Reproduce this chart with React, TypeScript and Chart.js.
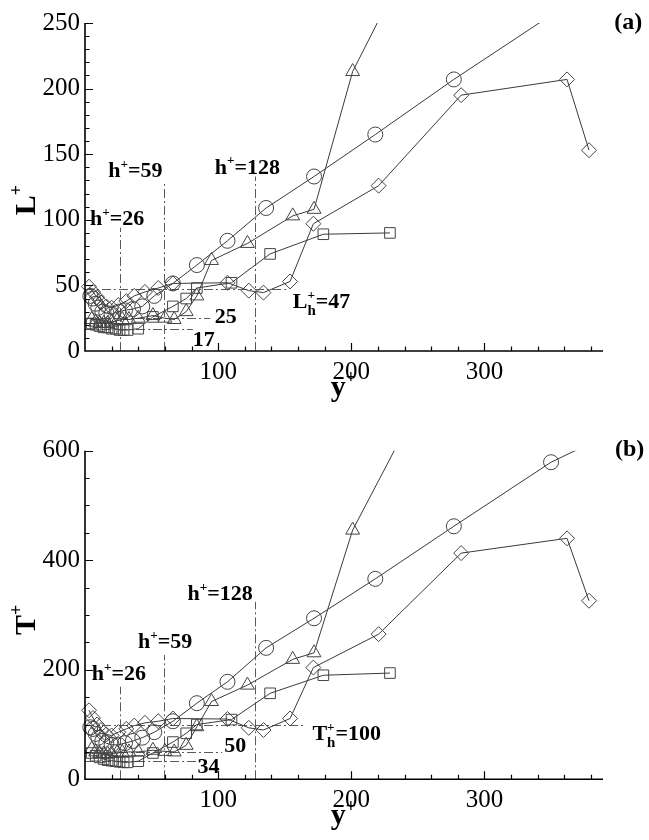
import React, { useEffect, useRef } from "react";
import { Chart, registerables } from "chart.js";

Chart.register(...registerables);

const SERIF = '"Liberation Serif", "Times New Roman", Times, serif';

// ---------------- data (y+ stations and values) ----------------
const circleX = [4, 6, 8, 10, 13, 16, 20, 25, 30, 36, 43, 52, 66, 84, 107, 136, 172, 218, 277, 350, 440];
const circleL = [42, 40, 36, 33, 30, 29, 28, 30, 31, 32, 34, 42, 51.5, 65.5, 84, 109, 133, 165, 207, 256, 310];
const circleT = [95, 92, 83, 76, 70, 66, 63, 63, 66, 70, 76, 86, 106, 139, 178, 240, 294, 366, 462, 579, 684];

const triangleX = [5, 8, 11, 14, 17, 20, 24, 28, 33, 40, 51, 60, 67, 76, 84, 95, 122, 156, 172, 201, 240];
const triangleL = [24, 22, 21, 21, 21, 22, 23, 24, 24, 25, 27, 25, 24, 30, 42, 69, 82, 103, 108, 213, 291];
const triangleT = [55, 50, 47, 46, 46, 47, 48, 49, 50, 50, 53, 51, 50, 62, 96, 142, 172, 219, 231, 455, 636];

const squareX = [5, 8, 11, 14, 17, 20, 23, 26, 29, 32, 40, 51, 66, 76, 84, 110, 139, 179, 229];
const squareL = [21, 20, 19, 18, 18, 17, 17, 16, 16, 16, 17, 26, 34, 40, 48, 52, 74, 89, 90];
const squareT = [48, 43, 40, 37, 35, 34, 33, 32, 31, 31, 33, 48, 68, 84, 100, 109, 157, 190, 194];

const diamondX = [3, 6, 9, 12, 16, 20, 25, 31, 37, 45, 55, 66, 107, 123, 134, 154, 171.5, 220.5, 282.5, 362, 378.5];
const diamondL = [49, 45, 41, 37, 34, 33, 35, 38, 42, 45, 48, 51.5, 52, 46, 44.5, 53, 97, 126, 195, 207, 153];
const diamondT = [126, 112, 100, 90, 82, 80, 86, 92, 98, 103, 106, 111, 110, 94, 90, 111, 204, 265, 413, 440, 326];

// reference lines
const hPlus = [26, 59, 128];
const hTopL = [94, 128, 133];
const hTopT = [169, 227, 324];
const levelL = [47, 25, 17];
const levelEndL = [152, 94, 81];
const levelT = [100, 50, 34];
const levelEndT = [164, 103, 87];

// tick labels
const xTickLabels = ["100", "200", "300"];
const lTickLabels = ["0", "50", "100", "150", "200", "250"];
const tTickLabels = ["0", "200", "400", "600"];

// annotation texts (anchor = left/baseline in data units)
type Seg = { t?: string; sup?: string; sub?: string };
type Note = { x: number; y: number; segs: Seg[] };

const notesA: Note[] = [
  { x: 3.75, y: 95.9, segs: [{ t: "h" }, { sup: "+" }, { t: "=26" }] },
  { x: 17.5, y: 132.6, segs: [{ t: "h" }, { sup: "+" }, { t: "=59" }] },
  { x: 97.5, y: 135.2, segs: [{ t: "h" }, { sup: "+" }, { t: "=128" }] },
  { x: 156, y: 32.5, segs: [{ t: "L" }, { sup: "+", sub: "h" }, { t: "=47" }] },
  { x: 97.5, y: 21.5, segs: [{ t: "25" }] },
  { x: 81, y: 4, segs: [{ t: "17" }] },
];
const notesB: Note[] = [
  { x: 5, y: 181.2, segs: [{ t: "h" }, { sup: "+" }, { t: "=26" }] },
  { x: 39.75, y: 239.7, segs: [{ t: "h" }, { sup: "+" }, { t: "=59" }] },
  { x: 77, y: 327.4, segs: [{ t: "h" }, { sup: "+" }, { t: "=128" }] },
  { x: 170.8, y: 71.8, segs: [{ t: "T" }, { sup: "+", sub: "h" }, { t: "=100" }] },
  { x: 104.5, y: 50.4, segs: [{ t: "50" }] },
  { x: 84.5, y: 11, segs: [{ t: "34" }] },
];

type Panel = {
  yMax: number;
  yMajor: number;
  yMinor: number;
  yLabels: string[];
  L: { circle: number[]; triangle: number[]; square: number[]; diamond: number[] };
  hTop: number[];
  levels: number[];
  levelEnd: number[];
  notes: Note[];
  yTitle: string;
  yTitleAt: number;
  tag: string;
  tagAt: [number, number];
  padTop: number;
  xAxisH: number;
};

const panelA: Panel = {
  yMax: 250,
  yMajor: 50,
  yMinor: 10,
  yLabels: lTickLabels,
  L: { circle: circleL, triangle: triangleL, square: squareL, diamond: diamondL },
  hTop: hTopL,
  levels: levelL,
  levelEnd: levelEndL,
  notes: notesA,
  yTitle: "L",
  yTitleAt: 115,
  tag: "(a)",
  tagAt: [397.5, 245.8],
  padTop: 23,
  xAxisH: 69,
};
const panelB: Panel = {
  yMax: 600,
  yMajor: 200,
  yMinor: 50,
  yLabels: tTickLabels,
  L: { circle: circleT, triangle: triangleT, square: squareT, diamond: diamondT },
  hTop: hTopT,
  levels: levelT,
  levelEnd: levelEndT,
  notes: notesB,
  yTitle: "T",
  yTitleAt: 291,
  tag: "(b)",
  tagAt: [398, 590],
  padTop: 30.7,
  xAxisH: 60.7,
};

const X_MAX = 389;

const bold = (s: number) => `bold ${s}px ${SERIF}`;

function drawRich(ctx: CanvasRenderingContext2D, x: number, y: number, segs: Seg[], size: number, dry = false) {
  let cx = x;
  for (const s of segs) {
    if (s.t) {
      ctx.font = bold(size);
      if (!dry) ctx.fillText(s.t, cx, y);
      cx += ctx.measureText(s.t).width;
    } else {
      let w = 0;
      if (s.sup) {
        ctx.font = bold(size * 0.6);
        if (!dry) ctx.fillText(s.sup, cx, y - size * 0.42);
        w = Math.max(w, ctx.measureText(s.sup).width);
      }
      if (s.sub) {
        ctx.font = bold(size * 0.68);
        if (!dry) ctx.fillText(s.sub, cx, y + size * 0.3);
        w = Math.max(w, ctx.measureText(s.sub).width);
      }
      cx += w;
    }
  }
  return cx - x;
}

const snap = (v: number) => Math.round(v) + 0.5;

function overlay(p: Panel) {
  return {
    id: "overlay",
    beforeDatasetsDraw(chart: any) {
      const ctx: CanvasRenderingContext2D = chart.ctx;
      const xs = chart.scales.x;
      const ys = chart.scales.y;
      ctx.save();
      ctx.strokeStyle = "#5a5a5a";
      ctx.lineWidth = 1;
      ctx.setLineDash([9, 3, 2, 3]);
      hPlus.forEach((h, i) => {
        const px = snap(xs.getPixelForValue(h));
        ctx.beginPath();
        ctx.moveTo(px, ys.getPixelForValue(0));
        ctx.lineTo(px, ys.getPixelForValue(p.hTop[i]));
        ctx.stroke();
      });
      p.levels.forEach((lv, i) => {
        const py = snap(ys.getPixelForValue(lv));
        ctx.beginPath();
        ctx.moveTo(xs.getPixelForValue(0), py);
        ctx.lineTo(xs.getPixelForValue(p.levelEnd[i]), py);
        ctx.stroke();
      });
      ctx.restore();
    },
    afterDraw(chart: any) {
      const ctx: CanvasRenderingContext2D = chart.ctx;
      const xs = chart.scales.x;
      const ys = chart.scales.y;
      const { left, right, top, bottom } = chart.chartArea;
      ctx.save();
      // axes
      ctx.strokeStyle = "#000";
      ctx.lineWidth = 1.6;
      ctx.beginPath();
      ctx.moveTo(left, top);
      ctx.lineTo(left, bottom);
      ctx.lineTo(right, bottom);
      ctx.stroke();
      // ticks (inward)
      ctx.lineWidth = 1.2;
      ctx.beginPath();
      for (let v = p.yMinor; v <= p.yMax + 1e-6; v += p.yMinor) {
        const major = Math.abs(v / p.yMajor - Math.round(v / p.yMajor)) < 1e-6;
        const py = snap(ys.getPixelForValue(v));
        ctx.moveTo(left, py);
        ctx.lineTo(left + (major ? 8 : 4.5), py);
      }
      for (let v = 20; v <= X_MAX; v += 20) {
        const major = v % 100 === 0;
        const px = snap(xs.getPixelForValue(v));
        ctx.moveTo(px, bottom);
        ctx.lineTo(px, bottom - (major ? 8 : 4.5));
      }
      ctx.stroke();

      // notes
      ctx.fillStyle = "#000";
      ctx.textAlign = "left";
      ctx.textBaseline = "alphabetic";
      for (const n of p.notes) {
        drawRich(ctx, xs.getPixelForValue(n.x), ys.getPixelForValue(n.y), n.segs, 22);
      }
      // panel tag
      ctx.font = bold(24);
      ctx.fillText(p.tag, xs.getPixelForValue(p.tagAt[0]), ys.getPixelForValue(p.tagAt[1]));

      // x title
      drawRich(ctx, xs.getPixelForValue(184.5), bottom + 45, [{ t: "y" }, { sup: "+" }], 30);

      // y title (rotated)
      const ySegs: Seg[] = [{ t: p.yTitle }, { sup: "+" }];
      const w = drawRich(ctx, 0, 0, ySegs, 30, true);
      ctx.save();
      ctx.translate(left - 50, ys.getPixelForValue(p.yTitleAt));
      ctx.rotate(-Math.PI / 2);
      drawRich(ctx, -w / 2, 0, ySegs, 30);
      ctx.restore();

      ctx.restore();
    },
  };
}

function build(canvas: HTMLCanvasElement, p: Panel) {
  const mk = (xs: number[], ys: number[], style: string, r: number) => ({
    data: xs.map((x, i) => ({ x, y: ys[i] })),
    showLine: true,
    borderColor: "#3a3a3a",
    borderWidth: 1,
    pointStyle: style,
    pointRadius: r,
    pointHoverRadius: r,
    pointBorderColor: "#444",
    pointBackgroundColor: "rgba(0,0,0,0)",
    pointBorderWidth: 1,
    tension: 0,
    clip: { left: 12, right: 12, bottom: 12, top: 0 },
  });
  return new Chart(canvas, {
    type: "line",
    data: {
      datasets: [
        mk(circleX, p.L.circle, "circle", 7.5),
        mk(triangleX, p.L.triangle, "triangle", 8),
        mk(squareX, p.L.square, "rect", 7.5),
        mk(diamondX, p.L.diamond, "rectRot", 7.5),
      ] as any,
    },
    options: {
      responsive: false,
      animation: false,
      devicePixelRatio: 1,
      events: [],
      layout: { padding: { top: p.padTop, right: 46, left: 0, bottom: 0 } },
      plugins: { legend: { display: false }, tooltip: { enabled: false } },
      scales: {
        x: {
          type: "linear",
          min: 0,
          max: X_MAX,
          afterFit: (s: any) => {
            s.height = p.xAxisH;
          },
          grid: { display: false, drawTicks: false },
          border: { display: false },
          ticks: {
            stepSize: 100,
            includeBounds: false,
            autoSkip: false,
            maxRotation: 0,
            padding: 6,
            color: "#000",
            font: { family: SERIF, size: 25 },
            callback: (v: any) => (xTickLabels.includes(String(v)) ? String(v) : ""),
          },
        },
        y: {
          type: "linear",
          min: 0,
          max: p.yMax,
          afterFit: (s: any) => {
            s.width = 85;
          },
          grid: { display: false, drawTicks: false },
          border: { display: false },
          ticks: {
            stepSize: p.yMajor,
            autoSkip: false,
            padding: 5,
            color: "#000",
            font: { family: SERIF, size: 25 },
            callback: (v: any) => (p.yLabels.includes(String(v)) ? String(v) : ""),
          },
        },
      },
    } as any,
    plugins: [overlay(p)],
  });
}

export default function App() {
  const refA = useRef<HTMLCanvasElement>(null);
  const refB = useRef<HTMLCanvasElement>(null);
  useEffect(() => {
    const a = build(refA.current!, panelA);
    const b = build(refB.current!, panelB);
    return () => {
      a.destroy();
      b.destroy();
    };
  }, []);
  return (
    <div style={{ position: "absolute", left: 0, top: 0, width: 649, height: 840, background: "#fff" }}>
      <canvas ref={refA} width={649} height={420} style={{ display: "block", width: 649, height: 420 }} />
      <canvas ref={refB} width={649} height={420} style={{ display: "block", width: 649, height: 420 }} />
    </div>
  );
}
